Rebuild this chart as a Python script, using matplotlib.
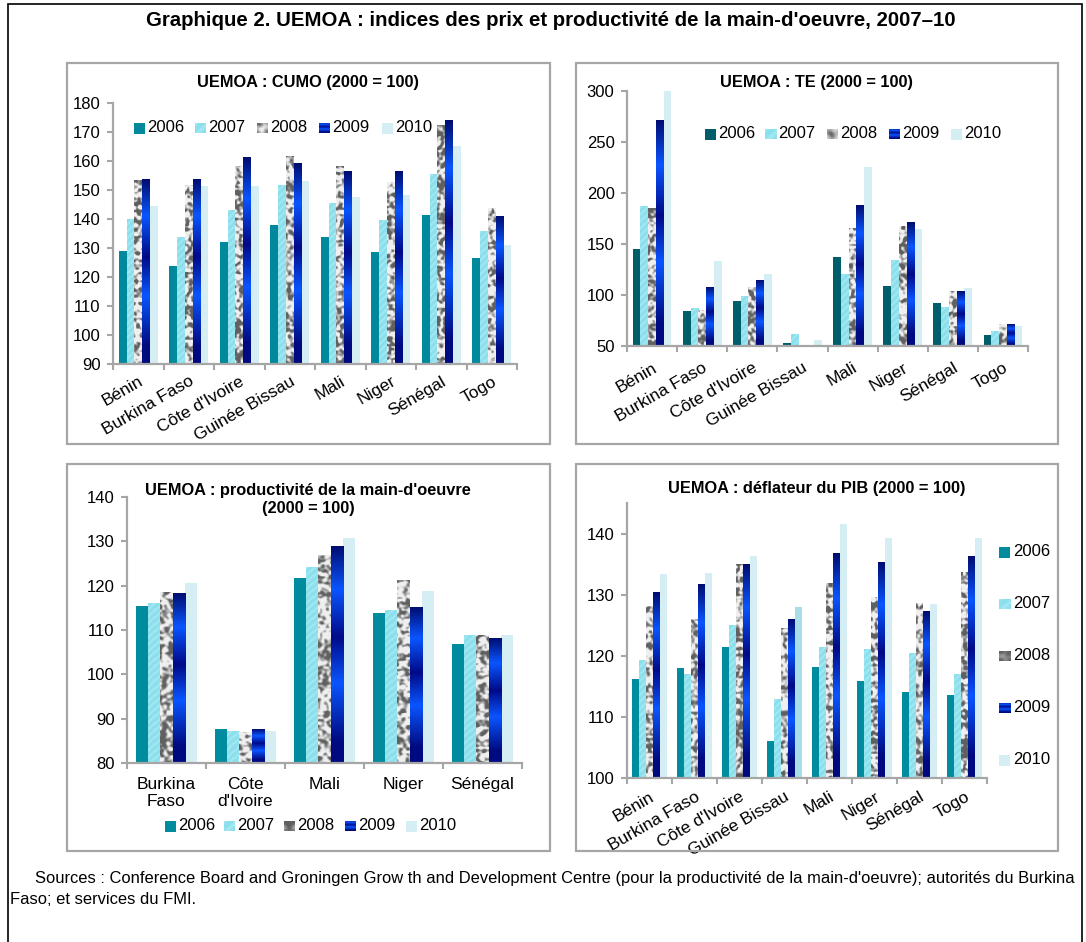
import numpy as np
import matplotlib
matplotlib.use("Agg")
import matplotlib.pyplot as plt
from matplotlib.patches import Rectangle
from matplotlib.colors import to_rgb

# ---------------- data ----------------
years = ["2006", "2007", "2008", "2009", "2010"]
countries8 = ["Bénin", "Burkina Faso", "Côte d'Ivoire", "Guinée Bissau",
              "Mali", "Niger", "Sénégal", "Togo"]
countries5 = ["Burkina\nFaso", "Côte\nd'Ivoire", "Mali", "Niger", "Sénégal"]

# UEMOA : CUMO (2000 = 100)
cumo_2006 = [129.0, 123.8, 132.2, 138.1, 133.9, 128.6, 141.3, 126.4]
cumo_2007 = [139.8, 133.6, 143.0, 151.6, 145.4, 139.6, 155.4, 135.8]
cumo_2008 = [153.4, 151.6, 158.2, 161.5, 158.2, 152.7, 172.3, 143.7]
cumo_2009 = [153.7, 153.7, 161.3, 159.2, 156.5, 156.5, 174.0, 140.7]
cumo_2010 = [144.5, 151.4, 151.4, 153.0, 147.6, 148.2, 165.1, 131.2]

# UEMOA : TE (2000 = 100)
te_2006 = [145.0, 84.6, 93.7, 52.6, 137.1, 108.7, 91.8, 60.4]
te_2007 = [187.0, 87.2, 99.0, 61.7, 120.5, 134.2, 87.5, 64.7]
te_2008 = [185.0, 84.6, 107.8, 50.3, 165.5, 167.5, 103.9, 70.6]
te_2009 = [271.0, 107.8, 114.6, 50.7, 188.0, 171.4, 103.9, 70.6]
te_2010 = [300.0, 132.9, 120.8, 55.9, 225.0, 164.6, 107.1, 69.6]

# UEMOA : productivité de la main-d'oeuvre (2000 = 100)
prod_2006 = [115.5, 87.7, 121.8, 113.8, 106.8]
prod_2007 = [115.9, 87.1, 124.1, 114.4, 108.8]
prod_2008 = [118.4, 86.9, 126.8, 121.2, 108.8]
prod_2009 = [118.3, 87.6, 128.9, 115.1, 108.1]
prod_2010 = [120.7, 87.3, 130.8, 118.9, 108.9]

# UEMOA : déflateur du PIB (2000 = 100)
defl_2006 = [116.2, 118.0, 121.4, 106.1, 118.2, 115.9, 114.1, 113.6]
defl_2007 = [119.3, 116.9, 124.9, 112.8, 121.4, 121.1, 120.3, 116.9]
defl_2008 = [128.0, 125.9, 135.0, 124.4, 131.9, 129.6, 128.5, 133.7]
defl_2009 = [130.4, 131.7, 135.0, 125.9, 136.8, 135.2, 127.2, 136.3]
defl_2010 = [133.3, 133.5, 136.3, 128.0, 141.6, 139.3, 128.5, 139.3]

title = "Graphique 2. UEMOA : indices des prix et productivité de la main-d'oeuvre, 2007–10"
sources1 = ("Sources : Conference Board and Groningen Grow th and Development Centre "
            "(pour la productivité de la main-d'oeuvre); autorités du Burkina")
sources2 = "Faso; et services du FMI."

# ---------------- style ----------------
W, H, DPI = 1086, 942, 100
plt.rcParams["font.family"] = ["Liberation Sans", "DejaVu Sans"]
AXIS_GRAY = "#A6A6A6"
C2007 = "#8FE2EE"
C2008 = "#B4B4B4"
C2009 = "#0A2FD0"
C2010 = "#D5EEF4"
GRAD_STOPS = [(0.0, "#000C70"), (0.2, "#0A55FF"), (0.42, "#000A88"),
              (0.63, "#0A55FF"), (0.9, "#000A80"), (1.0, "#000A80")]
BW = 0.155
FS_TICK = 12
FS_CAT = 12.5
FS_LEG = 12
FS_PTITLE = 11.75

fig = plt.figure(figsize=(W / DPI, H / DPI), dpi=DPI)


def fx(x):
    return x / W


def fy(y):
    return 1 - y / H


def lerp_stops(f, stops):
    pos = np.array([s[0] for s in stops])
    cols = np.array([to_rgb(s[1]) for s in stops])
    return np.stack([np.interp(f, pos, cols[:, k]) for k in range(3)], axis=-1)


def hash2(ix, iy, seed):
    v = np.sin(ix * 12.9898 + iy * 78.233 + seed * 4.1414) * 43758.5453
    return v - np.floor(v)


def tex_2007(nx, ny):
    X, Y = np.meshgrid(np.arange(nx), np.arange(ny))
    s = 0.5 + 0.5 * np.sin(2 * np.pi * (X - Y) / 7.0)
    t = (s ** 2)[..., None] * 0.45
    c1 = np.array(to_rgb("#8ADFEC"))
    c2 = np.array(to_rgb("#C6F3F8"))
    return c1 * (1 - t) + c2 * t


def tex_2008(nx, ny, seed):
    X, Y = np.meshgrid(np.arange(nx), np.arange(ny))
    n = hash2(X // 2, Y // 2, seed)
    for _ in range(3):
        n = (n + np.roll(n, 1, 0) + np.roll(n, -1, 0) + np.roll(n, 1, 1) + np.roll(n, -1, 1)) / 5
    g = np.clip(0.74 + (n - 0.5) * 2.4, 0.38, 0.94)
    return np.repeat(g[..., None], 3, axis=2)


def tex_2009(nx, ny):
    y = np.arange(ny)
    f = 1 - (y + 0.5) / ny
    col = lerp_stops(f, GRAD_STOPS)
    return np.repeat(col[:, None, :], nx, axis=1)


def make_tex(k, nx, ny, seed):
    if k == 1:
        return tex_2007(nx, ny)
    if k == 2:
        return tex_2008(nx, ny, seed)
    return tex_2009(nx, ny)


def draw_panel(box, series, cats, ylim, yticks, c2006, rotate, seed0, pidx, catpad=8):
    x0, yt, x1, yb = box
    ax = fig.add_axes([fx(x0), fy(yb), fx(x1) - fx(x0), fy(yt) - fy(yb)])
    n = len(cats)
    xs = np.arange(n)
    ymin = ylim[0]
    pxx = (x1 - x0) / n
    pxy = (yb - yt) / (ylim[1] - ylim[0])
    colors = [c2006, C2007, C2008, C2009, C2010]
    offsets = (np.arange(5) - 2) * BW
    all_bars = []
    for k, vals in enumerate(series):
        vals = np.asarray(vals, float)
        bars = ax.bar(xs + offsets[k], vals - ymin, bottom=ymin, width=BW,
                      color=colors[k], linewidth=0, zorder=2)
        all_bars.append(bars)
        if k in (1, 2, 3):
            for j, b in enumerate(bars):
                nxp = max(2, int(round(b.get_width() * pxx)))
                nyp = max(2, int(round(b.get_height() * pxy)))
                tex = make_tex(k, nxp, nyp, seed0 + j * 7 + pidx * 101)
                ax.imshow(tex, extent=[b.get_x(), b.get_x() + b.get_width(),
                                       b.get_y(), b.get_y() + b.get_height()],
                          origin="lower", aspect="auto",
                          interpolation="nearest" if k == 1 else "bilinear",
                          zorder=2.5)
    ax.set_xlim(-0.5, n - 0.5)
    ax.set_ylim(*ylim)
    for s in ("top", "right"):
        ax.spines[s].set_visible(False)
    for s in ("left", "bottom"):
        ax.spines[s].set_color(AXIS_GRAY)
        ax.spines[s].set_linewidth(1.6)
    ax.set_yticks(yticks)
    ax.tick_params(axis="y", direction="out", length=4, width=1.5,
                   color=AXIS_GRAY, labelsize=FS_TICK, pad=5)
    ax.set_xticks(np.arange(n + 1) - 0.5)
    ax.set_xticklabels([])
    ax.tick_params(axis="x", which="major", direction="out", length=4,
                   width=1.5, color=AXIS_GRAY)
    ax.set_xticks(xs, cats, minor=True)
    if rotate:
        ax.tick_params(axis="x", which="minor", length=0, labelsize=FS_CAT, pad=catpad)
        for lab in ax.get_xticklabels(minor=True):
            lab.set_rotation(30)
            lab.set_ha("right")
            lab.set_va("top")
            lab.set_rotation_mode("anchor")
    else:
        ax.tick_params(axis="x", which="minor", length=0, labelsize=FS_CAT, pad=catpad)
    ax.set_facecolor("none")
    return ax, all_bars


def legend_square(x, yc, s, k, c2006, seed):
    lax = fig.add_axes([fx(x), fy(yc + s / 2), s / W, s / H])
    if k in (1, 2, 3):
        tex = make_tex(k, 6, 6, seed) if k != 3 else tex_2009(6, 12)
        lax.imshow(tex, extent=[0, 1, 0, 1], origin="lower", aspect="auto",
                   interpolation="nearest" if k == 1 else "bilinear")
    else:
        col = c2006 if k == 0 else C2010
        lax.add_patch(Rectangle((0, 0), 1, 1, color=col))
    lax.set_xlim(0, 1)
    lax.set_ylim(0, 1)
    lax.axis("off")


def legend_row(xs_px, yc, c2006, seed):
    for k, (x, yr) in enumerate(zip(xs_px, years)):
        legend_square(x, yc, 11, k, c2006, seed + k)
        fig.text(fx(x + 13), fy(yc), yr, fontsize=FS_LEG, ha="left", va="center")


# ---------------- outer frame, title, panel boxes ----------------
fig.add_artist(Rectangle((fx(8), fy(960)), fx(1082) - fx(8), fy(4) - fy(960),
                         transform=fig.transFigure, fill=False,
                         edgecolor="black", linewidth=1.2))
fig.text(fx(551), fy(20), title, fontsize=14.7, fontweight="bold",
         ha="center", va="center")

for (bx0, by0, bx1, by1) in [(67, 63, 550, 444), (576, 63, 1058, 444),
                             (67, 464, 550, 851), (576, 464, 1058, 851)]:
    fig.add_artist(Rectangle((fx(bx0), fy(by1)), fx(bx1) - fx(bx0), fy(by0) - fy(by1),
                             transform=fig.transFigure, fill=False,
                             edgecolor=AXIS_GRAY, linewidth=1.6))

# ---------------- panels ----------------
# CUMO
draw_panel((113, 103, 517, 364),
           [cumo_2006, cumo_2007, cumo_2008, cumo_2009, cumo_2010],
           countries8, (90, 180), np.arange(90, 181, 10), "#00889C", True, 1, 0,
           catpad=7)
fig.text(fx(308), fy(83), "UEMOA : CUMO (2000 = 100)", fontsize=FS_PTITLE,
         fontweight="bold", ha="center", va="center")
legend_row([134, 195, 257, 319, 382], 128, "#00889C", 11)

# TE
draw_panel((627, 91, 1028, 346),
           [te_2006, te_2007, te_2008, te_2009, te_2010],
           countries8, (50, 300), np.arange(50, 301, 50), "#005E6B", True, 2, 1,
           catpad=10)
fig.text(fx(817), fy(82), "UEMOA : TE (2000 = 100)", fontsize=FS_PTITLE,
         fontweight="bold", ha="center", va="center")
legend_row([705, 765, 827, 889, 951], 134, "#005E6B", 21)

# Productivity
draw_panel((127, 497, 522, 763),
           [prod_2006, prod_2007, prod_2008, prod_2009, prod_2010],
           countries5, (80, 140), np.arange(80, 141, 10), "#008C9E", False, 3, 2,
           catpad=10)
fig.text(fx(308), fy(499), "UEMOA : productivité de la main-d'oeuvre\n(2000 = 100)",
         fontsize=FS_PTITLE, fontweight="bold", ha="center", va="center",
         linespacing=1.25)
legend_row([165, 224, 284, 345, 406], 826, "#008C9E", 31)

# Deflator
axd, dbars = draw_panel((627, 503, 987, 778),
                        [defl_2006, defl_2007, defl_2008, defl_2009, defl_2010],
                        countries8, (100, 145), np.arange(100, 141, 10), "#008C9E",
                        True, 4, 3, catpad=8)
dbars[4][3].set_facecolor("#A9DEE8")
fig.text(fx(817), fy(489), "UEMOA : déflateur du PIB (2000 = 100)", fontsize=FS_PTITLE,
         fontweight="bold", ha="center", va="center")
for k, (yc, yr) in enumerate(zip([552, 604, 656, 708, 760], years)):
    legend_square(999, yc, 11, k, "#008C9E", 41 + k)
    fig.text(fx(1013), fy(yc), yr, fontsize=FS_LEG, ha="left", va="center")

# ---------------- sources ----------------
fig.text(fx(35), fy(878), sources1, fontsize=11.85, ha="left", va="center")
fig.text(fx(10), fy(900), sources2, fontsize=11.85, ha="left", va="center")

fig.savefig("out.png", dpi=DPI)
